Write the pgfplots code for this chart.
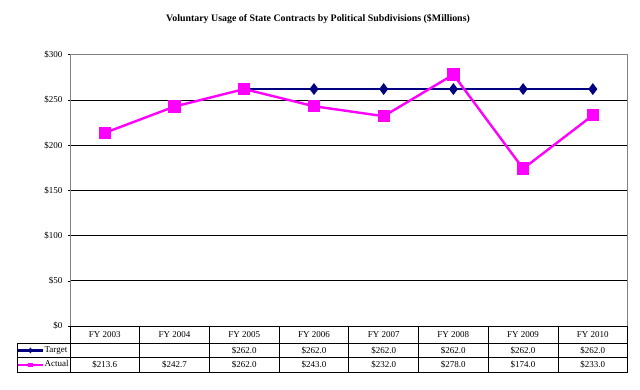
\documentclass[border=0pt]{standalone}
\usepackage{pgfplots}
\pgfplotsset{compat=1.18}
\usepackage{fontspec}
\setmainfont{Liberation Serif}
\definecolor{navy}{RGB}{0,0,128}
\definecolor{mag}{RGB}{255,0,255}
\definecolor{frame}{RGB}{128,128,128}
\begin{document}
\begin{tikzpicture}[x=1pt,y=1pt]
\path[use as bounding box, fill=white] (0,0) rectangle (640,390);
\node[font=\bfseries\fontsize{9.9}{11}\selectfont] at (318,371) {Voluntary Usage of State Contracts by Political Subdivisions (\$Millions)};
\begin{axis}[
  at={(70pt,64pt)}, anchor=south west,
  scale only axis, width=557.7pt, height=271.3pt,
  xmin=-0.5, xmax=7.5, ymin=0, ymax=300,
  xtick=\empty,
  ytick={0,50,...,300},
  yticklabels={\$0,\$50,\$100,\$150,\$200,\$250,\$300},
  minor ytick={50,100,...,250},
  yminorgrids,
  minor grid style={black, line width=0.6pt},
  minor tick length=0pt,
  axis line style={frame, line width=0.8pt},
  major tick style={black, line width=0.5pt},
  major tick length=2pt,
  tick pos=left, tick align=outside,
  yticklabel style={font=\fontsize{9}{10}\selectfont, inner sep=1pt, xshift=-4.5pt},
  /pgf/number format/assume math mode=true,
  clip=false,
  legend style={draw=none, fill=none, at={(rel axis cs:-0.0968,-0.0772)}, anchor=north west,
    inner sep=0pt, row sep=8.3pt, column sep=0pt,
    nodes={inner sep=0pt, text height=5pt, text depth=1.5pt, font=\fontsize{9}{10}\selectfont}},
  legend cell align=left,
  legend image code/.code={
    \draw[#1, mark repeat=2, mark phase=2] plot coordinates {(0pt,0pt) (13pt,0pt) (26pt,0pt)};
  },
]
\addlegendimage{color=navy, line width=2.4pt, mark=diamond*, mark options={solid, scale=0.5}}
\addlegendentry{Target}
\addlegendimage{color=mag, line width=2.4pt, mark=square*, mark options={solid, scale=0.45}}
\addlegendentry{Actual}
\addplot[color=navy, line width=2.4pt, mark=diamond*, mark size=4pt, mark options={solid}, forget plot]
  coordinates {(2,262) (3,262) (4,262) (5,262) (6,262) (7,262)};
\addplot[color=mag, line width=2.4pt, mark=square*, mark size=5pt, forget plot]
  coordinates {(0,213.6) (1,242.7) (2,262) (3,243) (4,232) (5,278) (6,174) (7,233)};
\end{axis}
% data table grid
\draw[black, line width=0.8pt] (70,64) -- (628,64);
\draw[black, line width=0.8pt] (17,46.7) -- (628,46.7);
\draw[black, line width=0.8pt] (17,33) -- (628,33);
\draw[black, line width=0.8pt] (17,17.3) -- (628,17.3);
\draw[black, line width=0.8pt] (17,46.7) -- (17,17.3);
\foreach \k in {0,...,8} {
  \draw[black, line width=0.8pt] ({70+69.7*\k},64) -- ({70+69.7*\k},17.3);
}
\foreach \lab [count=\i from 0] in {FY 2003,FY 2004,FY 2005,FY 2006,FY 2007,FY 2008,FY 2009,FY 2010} {
  \node[font=\fontsize{9}{10}\selectfont] at ({104.85+69.7*\i},55.5) {\lab};
}
\foreach \v [count=\i from 2] in {262.0,262.0,262.0,262.0,262.0,262.0} {
  \node[font=\fontsize{9}{10}\selectfont] at ({104.85+69.7*\i},39.8) {\$\v};
}
\foreach \v [count=\i from 0] in {213.6,242.7,262.0,243.0,232.0,278.0,174.0,233.0} {
  \node[font=\fontsize{9}{10}\selectfont] at ({104.85+69.7*\i},25) {\$\v};
}
\end{tikzpicture}
\end{document}
